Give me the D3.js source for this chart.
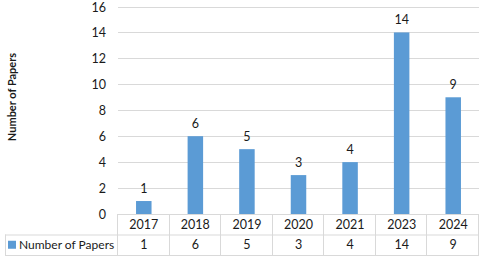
<!DOCTYPE html>
<html>
<head>
<meta charset="utf-8">
<script src="https://cdnjs.cloudflare.com/ajax/libs/d3/7.8.5/d3.min.js"></script>
<style>
  body { margin: 0; background: #fff; }
  text { font-family: Lato, "Open Sans", sans-serif; fill: #1a1a1a; }
</style>
</head>
<body>
<script>
var years = ["2017", "2018", "2019", "2020", "2021", "2023", "2024"];
var papers = [1, 6, 5, 3, 4, 14, 9];
var yTicks = [0, 2, 4, 6, 8, 10, 12, 14, 16];
var seriesName = "Number of Papers";
var yTitle = "Number of Papers";

var chartW = 480, chartH = 257;
var plotLeft = 118, plotRight = 479, plotTop = 6.5, plotBottom = 214;
var rowH = 20.5;
var tableLeft = 5;
var fs = "12.5px";

var svg = d3.select("body").append("svg")
  .attr("width", chartW)
  .attr("height", chartH);

var x = d3.scaleBand()
  .domain(years)
  .range([plotLeft, plotRight])
  .paddingInner(0)
  .paddingOuter(0);

var y = d3.scaleLinear()
  .domain([0, 16])
  .range([plotBottom, plotTop]);

// gridlines
svg.append("g")
  .selectAll("line")
  .data(yTicks)
  .enter().append("line")
  .attr("x1", plotLeft)
  .attr("x2", plotRight)
  .attr("y1", function(d) { return Math.round(y(d)) + 0.5; })
  .attr("y2", function(d) { return Math.round(y(d)) + 0.5; })
  .attr("stroke", "#d9d9d9")
  .attr("stroke-width", 1);

// y axis labels
var yAxis = d3.axisLeft(y).tickValues(yTicks).tickSize(0).tickPadding(12);
var yg = svg.append("g")
  .attr("transform", "translate(" + plotLeft + ",0)")
  .call(yAxis);
yg.select(".domain").remove();
yg.selectAll("text")
  .style("font-family", "Lato, sans-serif")
  .style("font-size", fs)
  .attr("dy", "0.36em")
  .attr("fill", "#1a1a1a");

// y title
svg.append("text")
  .attr("transform", "translate(16,97) rotate(-90)")
  .attr("text-anchor", "middle")
  .style("font-size", "11px")
  .style("font-weight", "bold")
  .text(yTitle);

// bars
var barW = 15.5;
svg.append("g")
  .selectAll("rect")
  .data(papers)
  .enter().append("rect")
  .attr("x", function(d, i) { return x(years[i]) + x.bandwidth() / 2 - barW / 2; })
  .attr("y", function(d) { return y(d); })
  .attr("width", barW)
  .attr("height", function(d) { return y(0) - y(d); })
  .attr("fill", "#5b9bd5");

// value labels
svg.append("g")
  .selectAll("text")
  .data(papers)
  .enter().append("text")
  .attr("x", function(d, i) { return x(years[i]) + x.bandwidth() / 2; })
  .attr("y", function(d) { return y(d) - 8; })
  .attr("text-anchor", "middle")
  .style("font-size", fs)
  .text(function(d) { return d; });

// data table
var table = svg.append("g").attr("stroke", "#d9d9d9").attr("stroke-width", 1);
var r1 = plotBottom, r2 = plotBottom + rowH, r3 = plotBottom + 2 * rowH;
table.append("line").attr("x1", plotLeft).attr("x2", plotRight).attr("y1", r1 + 0.5).attr("y2", r1 + 0.5);
table.append("line").attr("x1", tableLeft).attr("x2", plotRight).attr("y1", r2 + 0.5).attr("y2", r2 + 0.5);
table.append("line").attr("x1", tableLeft).attr("x2", plotRight).attr("y1", r3 + 0.5).attr("y2", r3 + 0.5);
table.append("line").attr("x1", tableLeft + 0.5).attr("x2", tableLeft + 0.5).attr("y1", r2).attr("y2", r3);
table.selectAll(".v")
  .data(years.concat(["end"]))
  .enter().append("line")
  .attr("class", "v")
  .attr("x1", function(d, i) { return Math.round(i < years.length ? x(d) : plotRight) - 0.5; })
  .attr("x2", function(d, i) { return Math.round(i < years.length ? x(d) : plotRight) - 0.5; })
  .attr("y1", r1)
  .attr("y2", r3);

svg.append("g")
  .selectAll("text")
  .data(years)
  .enter().append("text")
  .attr("x", function(d) { return x(d) + x.bandwidth() / 2; })
  .attr("y", r1 + rowH / 2 + 4.5)
  .attr("text-anchor", "middle")
  .style("font-size", fs)
  .text(function(d) { return d; });

svg.append("g")
  .selectAll("text")
  .data(papers)
  .enter().append("text")
  .attr("x", function(d, i) { return x(years[i]) + x.bandwidth() / 2; })
  .attr("y", r2 + rowH / 2 + 4.5)
  .attr("text-anchor", "middle")
  .style("font-size", fs)
  .text(function(d) { return d; });

// legend key in table
svg.append("rect")
  .attr("x", 8)
  .attr("y", r2 + rowH / 2 - 4)
  .attr("width", 8)
  .attr("height", 8)
  .attr("fill", "#5b9bd5");
svg.append("text")
  .attr("x", 19)
  .attr("y", r2 + rowH / 2 + 4.5)
  .style("font-size", "12px")
  .text(seriesName);
</script>
</body>
</html>
